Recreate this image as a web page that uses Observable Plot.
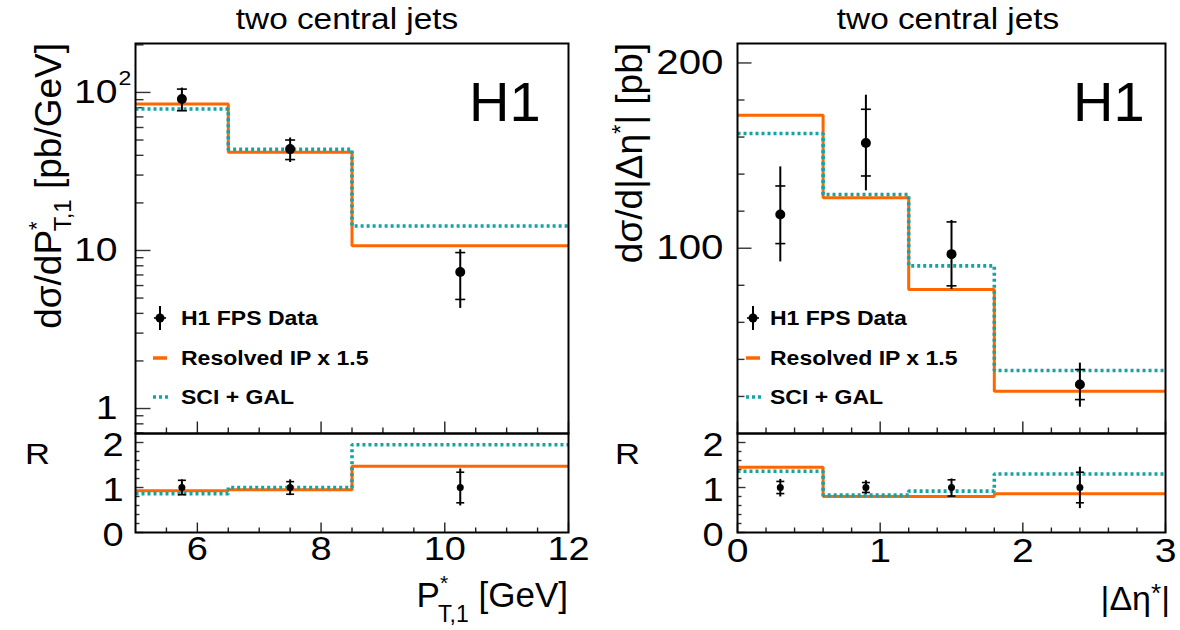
<!DOCTYPE html>
<html><head><meta charset="utf-8">
<script src="https://cdn.jsdelivr.net/npm/d3@7"></script>
<script src="https://cdn.jsdelivr.net/npm/@observablehq/plot@0.6"></script>
<style>
body{margin:0;background:#fff;}
#chart{position:relative;width:1180px;height:630px;overflow:hidden;background:#fff;font-family:"Liberation Sans",Arial,Helvetica,sans-serif;}
</style></head><body><div id="chart"></div>
<script>
// ---------------- data: left panel, P*_T,1 ----------------
const ptEdges = [5, 6.5, 8.5, 12];
const ptCenters = [5.75, 7.5, 10.25];
const ptData = [90.8, 43.8, 7.3];
const ptStatLo = [76.6, 37.6, 4.9];
const ptStatHi = [105, 50, 9.7];
const ptTotLo = [76, 36, 4.3];
const ptTotHi = [106.5, 51.5, 10.1];
const ptResolved = [84.4, 41.8, 10.7];
const ptSciGal = [78.5, 43.6, 14.3];
const ptRatioResolved = [0.93, 0.95, 1.47];
const ptRatioSciGal = [0.86, 1.0, 1.95];
const ptRatioStatLo = [0.84, 0.85, 0.66];
const ptRatioStatHi = [1.16, 1.13, 1.34];
const ptRatioTotLo = [0.83, 0.82, 0.59];
const ptRatioTotHi = [1.17, 1.17, 1.41];
const ptXMajor = [6, 8, 10, 12];
const ptXMinor = [5.5, 6.5, 7, 7.5, 8.5, 9, 9.5, 10.5, 11, 11.5];
const ptYMajor = [1, 10, 100];
const ptYMinor = [0.7, 0.8, 0.9, 2, 3, 4, 5, 6, 7, 8, 9, 20, 30, 40, 50, 60, 70, 80, 90, 200];
const ptYLabels = ["1", "10", "10"];

// ---------------- data: right panel, |Δη*| ----------------
const deEdges = [0, 0.6, 1.2, 1.8, 3];
const deCenters = [0.3, 0.9, 1.5, 2.4];
const deData = [118.2, 156.8, 96.8, 26.4];
const deStatLo = [102.5, 139, 79.7, 18.3];
const deStatHi = [133.6, 175, 114.2, 34.5];
const deTotLo = [92.6, 131, 77.7, 14.2];
const deTotHi = [143.9, 182.6, 115, 38];
const deResolved = [171.8, 127.3, 77.7, 22.8];
const deSciGal = [161.9, 129, 90.5, 34];
const deRatioResolved = [1.45, 0.80, 0.80, 0.86];
const deRatioSciGal = [1.36, 0.83, 0.92, 1.30];
const deRatioStatLo = [0.865, 0.89, 0.81, 0.66];
const deRatioStatHi = [1.135, 1.11, 1.17, 1.34];
const deRatioTotLo = [0.79, 0.85, 0.79, 0.53];
const deRatioTotHi = [1.18, 1.15, 1.19, 1.45];
const deXMajor = [0, 1, 2, 3];
const deXMinor = [0.2, 0.4, 0.6, 0.8, 1.2, 1.4, 1.6, 1.8, 2.2, 2.4, 2.6, 2.8];
const deYMajor = [100, 200];
const deYMinor = [20, 40, 60, 80, 120, 140, 160, 180];

// ratio axis ticks
const rYMajor = [0, 1, 2];
const rYMinor = [0.2, 0.4, 0.6, 0.8, 1.2, 1.4, 1.6, 1.8];

const legendLabels = ["H1 FPS Data", "Resolved IP x 1.5", "SCI + GAL"];

// ---------------- styling ----------------
const FONT = '"Liberation Sans", Arial, Helvetica, sans-serif';
const ORANGE = "#ff6600", TEAL = "#16a3a3";
const STRETCH = 1.15;

function stepPts(edges, vals) { return edges.map((e, i) => ({x: e, y: vals[Math.min(i, vals.length - 1)]})); }
function pts(c, v, sl, sh, tl, th) { return c.map((x, i) => ({x, y: v[i], sl: sl[i], sh: sh[i], tl: tl[i], th: th[i]})); }
const tickSym = (dx, dy) => ({draw(ctx) { ctx.moveTo(0, 0); ctx.lineTo(dx, dy); }});
const barSym = (h) => ({draw(ctx) { ctx.moveTo(-h, 0); ctx.lineTo(h, 0); }});

function dataMarks(P, r, bar) {
  return [
    Plot.ruleX(P, {x: "x", y1: "tl", y2: "th", stroke: "black", strokeWidth: 2}),
    Plot.dot(P, {x: "x", y: "sl", symbol: barSym(bar), stroke: "black", strokeWidth: 1.6, fill: "none"}),
    Plot.dot(P, {x: "x", y: "sh", symbol: barSym(bar), stroke: "black", strokeWidth: 1.6, fill: "none"}),
    Plot.dot(P, {x: "x", y: "y", r, fill: "black", stroke: "none"})
  ];
}
function xTicks(maj, min, Lmaj, Lmin) {
  return [
    Plot.dot(maj, {x: d => d, frameAnchor: "bottom", symbol: tickSym(0, -Lmaj), stroke: "#222", strokeWidth: 1.4, fill: "none"}),
    Plot.dot(min, {x: d => d, frameAnchor: "bottom", symbol: tickSym(0, -Lmin), stroke: "#222", strokeWidth: 1.4, fill: "none"})
  ];
}
function yTicks(maj, min, Lmaj, Lmin) {
  return [
    Plot.dot(maj, {y: d => d, frameAnchor: "left", symbol: tickSym(Lmaj, 0), stroke: "#333", strokeWidth: 1.4, fill: "none"}),
    Plot.dot(min, {y: d => d, frameAnchor: "left", symbol: tickSym(Lmin, 0), stroke: "#333", strokeWidth: 1.4, fill: "none"})
  ];
}
function steps(edges, res, sci) {
  return [
    Plot.line(stepPts(edges, res), {x: "x", y: "y", curve: "step-after", stroke: ORANGE, strokeWidth: 3, strokeLinecap: "butt", strokeLinejoin: "miter"}),
    Plot.line(stepPts(edges, sci), {x: "x", y: "y", curve: "step-after", stroke: TEAL, strokeWidth: 3.6, strokeDasharray: "3,3", strokeLinecap: "butt", strokeLinejoin: "miter"})
  ];
}
function st(left, top) {
  return {position: "absolute", left: left + "px", top: top + "px", overflow: "visible", background: "transparent", maxWidth: "none", fontFamily: FONT, color: "black"};
}

const chart = document.getElementById("chart");

// Left main
const leftMain = Plot.plot({
  width: 568, height: 433, marginLeft: 135, marginRight: 0, marginTop: 43, marginBottom: 0,
  style: st(0, 0),
  x: {domain: [5, 12], axis: null},
  y: {type: "log", domain: [0.695, 204], axis: null},
  marks: [
    ...yTicks(ptYMajor, ptYMinor, 15, 8),
    ...xTicks(ptXMajor, ptXMinor, 12, 6),
    ...steps(ptEdges, ptResolved, ptSciGal),
    ...dataMarks(pts(ptCenters, ptData, ptStatLo, ptStatHi, ptTotLo, ptTotHi), 5, 5),
    Plot.text(ptYMajor, {y: d => d, text: (d, i) => ptYLabels[i], frameAnchor: "left", dx: -18, textAnchor: "end", fontSize: 34, fill: "black"}),
    Plot.text([100], {y: d => d, text: () => "2", frameAnchor: "left", dx: -17, dy: -14, textAnchor: "start", fontSize: 20, fill: "black"}),
    Plot.frame({stroke: "black", strokeWidth: 2})
  ]
});
chart.append(leftMain);

// Left ratio
const leftRatio = Plot.plot({
  width: 568, height: 99, marginLeft: 135, marginRight: 0, marginTop: 0, marginBottom: 0,
  style: st(0, 433),
  x: {domain: [5, 12], axis: null},
  y: {domain: [0, 2.2], axis: null},
  marks: [
    ...yTicks(rYMajor, rYMinor, 8, 4),
    ...xTicks(ptXMajor, ptXMinor, 10, 5),
    ...steps(ptEdges, ptRatioResolved, ptRatioSciGal),
    ...dataMarks(pts(ptCenters, ptCenters.map(() => 1), ptRatioStatLo, ptRatioStatHi, ptRatioTotLo, ptRatioTotHi), 3.5, 4),
    Plot.text(rYMajor, {y: d => d, text: d => String(d), frameAnchor: "left", dx: -12, dy: 3, textAnchor: "end", fontSize: 33, fill: "black"}),
    Plot.text(ptXMajor, {x: d => d, text: d => String(d), frameAnchor: "bottom", dy: 27, fontSize: 33, fill: "black"}),
    Plot.frame({stroke: "black", strokeWidth: 2})
  ]
});
chart.append(leftRatio);

// Right main
const rightMain = Plot.plot({
  width: 575, height: 433, marginLeft: 147, marginRight: 0, marginTop: 43, marginBottom: 0,
  style: st(590, 0),
  x: {domain: [0, 3], axis: null},
  y: {domain: [0, 210.5], axis: null},
  marks: [
    ...yTicks(deYMajor, deYMinor, 14, 7),
    ...xTicks(deXMajor, deXMinor, 12, 6),
    ...steps(deEdges, deResolved, deSciGal),
    ...dataMarks(pts(deCenters, deData, deStatLo, deStatHi, deTotLo, deTotHi), 5, 5),
    Plot.text(deYMajor, {y: d => d, text: d => String(d), frameAnchor: "left", dx: -14, textAnchor: "end", fontSize: 35, fill: "black"}),
    Plot.frame({stroke: "black", strokeWidth: 2})
  ]
});
chart.append(rightMain);

// Right ratio
const rightRatio = Plot.plot({
  width: 575, height: 99, marginLeft: 147, marginRight: 0, marginTop: 0, marginBottom: 0,
  style: st(590, 433),
  x: {domain: [0, 3], axis: null},
  y: {domain: [0, 2.2], axis: null},
  marks: [
    ...yTicks(rYMajor, rYMinor, 8, 4),
    ...xTicks(deXMajor, deXMinor, 10, 5),
    ...steps(deEdges, deRatioResolved, deRatioSciGal),
    ...dataMarks(pts(deCenters, deCenters.map(() => 1), deRatioStatLo, deRatioStatHi, deRatioTotLo, deRatioTotHi), 3.5, 4),
    Plot.text(rYMajor, {y: d => d, text: d => String(d), frameAnchor: "left", dx: -14, dy: 3, textAnchor: "end", fontSize: 33, fill: "black"}),
    Plot.text(deXMajor, {x: d => d, text: d => String(d), frameAnchor: "bottom", dy: 29, fontSize: 34, fill: "black"}),
    Plot.frame({stroke: "black", strokeWidth: 2})
  ]
});
chart.append(rightRatio);

// ---------------- overlay: titles, axis titles, legends ----------------
const ov = d3.select(chart).append("svg")
  .attr("width", 1180).attr("height", 630)
  .style("position", "absolute").style("left", "0px").style("top", "0px")
  .style("overflow", "visible").style("pointer-events", "none")
  .attr("font-family", FONT);

// panel titles
[[347, "two central jets"], [948, "two central jets"]].forEach(([x, t]) => {
  ov.append("text").attr("x", x).attr("y", 29).attr("text-anchor", "middle").attr("font-size", 29).text(t);
});
// H1 labels
[[469], [1073]].forEach(([x]) => {
  ov.append("text").attr("x", x).attr("y", 121).attr("font-size", 56).attr("data-nostretch", 1).text("H1");
});
// R labels
[[25], [615]].forEach(([x]) => {
  ov.append("text").attr("x", x).attr("y", 464).attr("font-size", 30).text("R");
});

// y titles (rotated)
const yt1 = ov.append("g").attr("data-nostretch", 1).attr("transform", "translate(61,43) rotate(-90)")
  .append("text").attr("text-anchor", "end").attr("font-size", 37);
yt1.append("tspan").text("dσ/dP");
yt1.append("tspan").attr("font-size", 22).attr("dy", -17).text("*");
yt1.append("tspan").attr("font-size", 24).attr("dx", -10).attr("dy", 27).text("T,1");
yt1.append("tspan").attr("dy", -10).text(" [pb/GeV]");

const yt2 = ov.append("g").attr("data-nostretch", 1).attr("transform", "translate(642,43) rotate(-90)")
  .append("text").attr("text-anchor", "end").attr("font-size", 37);
yt2.append("tspan").text("dσ/d|Δη");
yt2.append("tspan").attr("font-size", 24).attr("dy", -13).text("*");
yt2.append("tspan").attr("dy", 13).text("| [pb]");

// x titles
const xt1 = ov.append("text").attr("data-nostretch", 1).attr("x", 568).attr("y", 607).attr("text-anchor", "end").attr("font-size", 35);
xt1.append("tspan").text("P");
xt1.append("tspan").attr("font-size", 21).attr("dy", -17).text("*");
xt1.append("tspan").attr("font-size", 23).attr("dx", -10).attr("dy", 32).text("T,1");
xt1.append("tspan").attr("dy", -15).text(" [GeV]");

const xt2 = ov.append("text").attr("data-nostretch", 1).attr("x", 1170).attr("y", 610).attr("text-anchor", "end").attr("font-size", 34);
xt2.append("tspan").text("|Δη");
xt2.append("tspan").attr("font-size", 26).attr("dy", -8).text("*");
xt2.append("tspan").attr("dy", 8).text("|");

// legends
[[160, 181], [753, 770]].forEach(([sx, tx]) => {
  const ys = [318, 358, 397];
  const g = ov.append("g");
  g.append("line").attr("x1", sx).attr("x2", sx).attr("y1", ys[0] - 12).attr("y2", ys[0] + 12).attr("stroke", "black").attr("stroke-width", 2);
  g.append("line").attr("x1", sx - 6).attr("x2", sx + 6).attr("y1", ys[0]).attr("y2", ys[0]).attr("stroke", "black").attr("stroke-width", 1.6);
  g.append("circle").attr("cx", sx).attr("cy", ys[0]).attr("r", 4.5).attr("fill", "black");
  g.append("line").attr("x1", sx - 7).attr("x2", sx + 7).attr("y1", ys[1]).attr("y2", ys[1]).attr("stroke", ORANGE).attr("stroke-width", 3.5);
  g.append("line").attr("x1", sx - 7).attr("x2", sx + 8).attr("y1", ys[2]).attr("y2", ys[2]).attr("stroke", TEAL).attr("stroke-width", 3.6).attr("stroke-dasharray", "3,3");
  legendLabels.forEach((t, i) => {
    g.append("text").attr("x", tx).attr("y", ys[i] + 7).attr("font-size", 20).attr("font-weight", "bold").text(t);
  });
});

// horizontal stretch of text to mimic the reference's aspect
chart.querySelectorAll("text").forEach(t => {
  if (t.closest("[data-nostretch]")) return;
  if (t.querySelector("tspan")) return;
  const L = t.getComputedTextLength();
  if (L > 0) { t.setAttribute("textLength", L * STRETCH); t.setAttribute("lengthAdjust", "spacingAndGlyphs"); }
});
</script>
</body></html>
